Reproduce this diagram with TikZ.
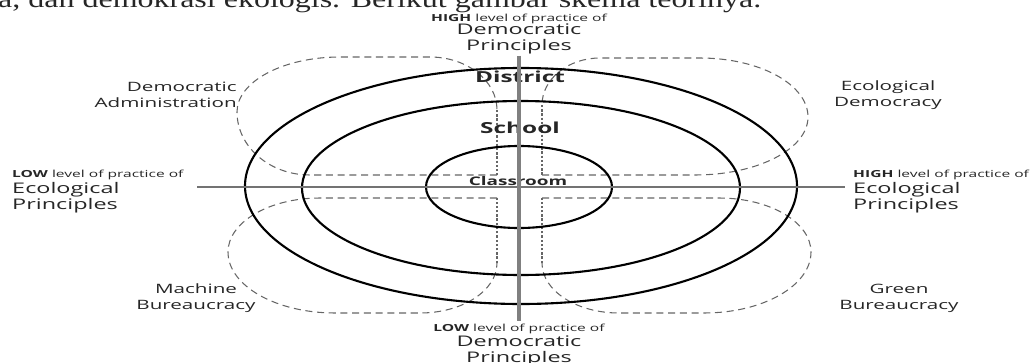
\documentclass[tikz,border=0pt]{standalone}
\usepackage{fontspec}
\newfontfamily\lblfont[FakeStretch=1.6]{Open Sans}
\newfontfamily\docfont[FakeStretch=1.3]{Liberation Serif}
\usetikzlibrary{positioning}

\begin{document}
\begin{tikzpicture}[
        x=0.03cm, y=-0.03cm,
        every node/.style={inner sep=0pt, text=black!85},
        axislbl/.style={font=\lblfont\fontsize{12.5}{13.7}\selectfont, align=center},
        levellbl/.style={font=\lblfont\fontsize{8.3}{9}\selectfont},
        quadlbl/.style={font=\lblfont\fontsize{11}{13.7}\selectfont, align=center},
        ringlbl/.style={font=\lblfont\bfseries\fontsize{13}{15}\selectfont},
        ring/.style={draw=black, line width=1.8pt},
        quad/.style={draw=black!60, line width=0.9pt, dash pattern=on 6pt off 4pt},
        quadside/.style={draw=black!60, line width=0.9pt, dash pattern=on 2pt off 1.6pt},
        node distance=1pt
    ]
        \useasboundingbox (0,0) rectangle (1030,363);

        % Texto
        \node[anchor=base west] (doc) at (-2,7.5) {\docfont\fontsize{21}{24}\selectfont a, dan demokrasi ekologis. Berikut gambar skema teorinya.};

        % Quadrantes
        \draw[quad] (497,175) -- (310,175)
            arc[start angle=90, end angle=180, x radius=73, y radius=63]
            arc[start angle=180, end angle=270, x radius=103, y radius=55]
            -- (430,57)
            arc[start angle=270, end angle=360, x radius=67, y radius=53];
        \draw[quadside] (497,110) -- (497,175);

        \draw[quad] (542,175) -- (695,175)
            arc[start angle=90, end angle=0, x radius=113, y radius=58]
            arc[start angle=0, end angle=-90, x radius=108, y radius=59]
            -- (600,58)
            arc[start angle=270, end angle=180, x radius=58, y radius=47];
        \draw[quadside] (542,105) -- (542,175);

        \draw[quad] (497,198) -- (320,198)
            arc[start angle=270, end angle=180, x radius=92, y radius=54]
            arc[start angle=180, end angle=90, x radius=107, y radius=61]
            -- (420,313)
            arc[start angle=90, end angle=0, x radius=77, y radius=50];
        \draw[quadside] (497,263) -- (497,198);

        \draw[quad] (542,198) -- (719,198)
            arc[start angle=270, end angle=360, x radius=92, y radius=54]
            arc[start angle=0, end angle=90, x radius=107, y radius=61]
            -- (619,313)
            arc[start angle=90, end angle=180, x radius=77, y radius=50];
        \draw[quadside] (542,263) -- (542,198);

        % Aneis
        \draw[ring] (521,186) ellipse [x radius=276, y radius=118];
        \draw[ring] (521,188) ellipse [x radius=219, y radius=87];
        \draw[ring] (519,187) ellipse [x radius=93, y radius=41];

        \node[ringlbl] (district) at (520,77) {District};
        \node[ringlbl] (school) at (520,128) {School};
        \node[ringlbl, font=\lblfont\bfseries\fontsize{10.1}{12}\selectfont] (classroom) at (518,181) {Classroom};

        % Eixos
        \node[axislbl] (demhigh) at (519,39) {Democratic\\Principles};
        \node[levellbl, above=0pt of demhigh] (demhighlvl) {\textbf{HIGH} level of practice of};
        \node[axislbl] (demlow) at (519,351) {Democratic\\Principles};
        \node[levellbl, above=1pt of demlow] (demlowlvl) {\textbf{LOW} level of practice of};

        \node[axislbl, align=left, anchor=west] (ecolow) at (12,198) {Ecological\\Principles};
        \node[levellbl, anchor=south west] (ecolowlvl) at ([yshift=2pt]ecolow.north west) {\textbf{LOW} level of practice of};
        \node[axislbl, align=left, anchor=west] (ecohigh) at (853,198) {Ecological\\Principles};
        \node[levellbl, anchor=south west] (ecohighlvl) at ([yshift=2pt]ecohigh.north west) {\textbf{HIGH} level of practice of};

        \coordinate (axw) at (197,187);
        \coordinate (axe) at (845,187);
        \draw[black!55, line width=1.3pt] (axw) -- (axe);
        \draw[black!50, line width=3pt] ([yshift=-1pt]demhigh.south) -- ([yshift=3pt]demlowlvl.north);

        % Quadrantes (rotulos)
        \node[quadlbl, align=right, anchor=east] (admin) at (237,95) {Democratic\\Administration};
        \node[quadlbl] (ecodem) at (888,95) {Ecological\\Democracy};
        \node[quadlbl] (machine) at (196,298) {Machine\\Bureaucracy};
        \node[quadlbl] (green) at (899,298) {Green\\Bureaucracy};
    \end{tikzpicture}
\end{document}
